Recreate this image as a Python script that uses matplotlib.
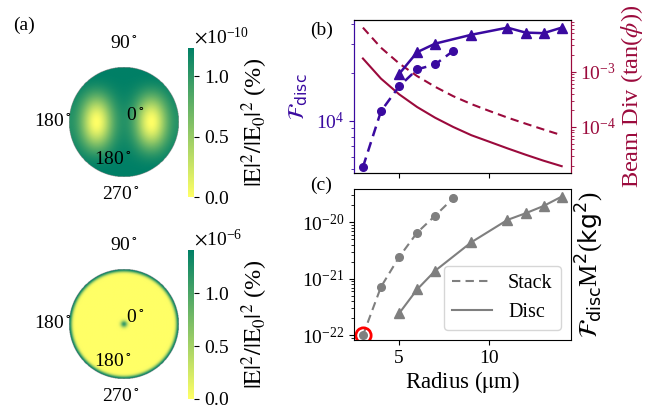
import numpy as np
import matplotlib
matplotlib.use("Agg")
import matplotlib.pyplot as plt
from matplotlib.lines import Line2D
from matplotlib.ticker import NullFormatter

plt.rcParams['font.family'] = ['Liberation Serif', 'DejaVu Serif']
plt.rcParams['mathtext.fontset'] = 'stix'
plt.rcParams['font.size'] = 14

# panel (b)/(c) data
radius_stack = [3, 4, 5, 6, 7, 8]
fdisc_stack = [5160, 11500, 16400, 20950, 22500, 27300]
radius_disc = [5, 6, 7, 9, 11, 12, 13, 14]
fdisc_disc = [19600, 26800, 30300, 34400, 38100, 35500, 35200, 38100]

radius_div = [3, 4, 5, 6, 7, 8, 9, 10, 11, 12, 13, 14]
div_stack = [6.31e-3, 2.73e-3, 1.42e-3, 8.35e-4, 5.34e-4, 3.61e-4,
             2.6e-4, 1.95e-4, 1.48e-4, 1.15e-4, 9.0e-5, 7.1e-5]
div_disc = [1.74e-3, 7.52e-4, 3.92e-4, 2.30e-4, 1.47e-4, 1.0e-4,
            7.1e-5, 5.4e-5, 4.1e-5, 3.15e-5, 2.45e-5, 1.95e-5]

fm2_stack = [1.0e-22, 7.2e-22, 2.42e-21, 6.55e-21, 1.31e-20, 2.66e-20]
fm2_disc = [2.44e-22, 6.5e-22, 1.39e-21, 4.43e-21, 1.1e-20, 1.44e-20, 1.94e-20, 2.84e-20]

# panel (a) colour scale maxima
vmax_top = 1.236e-10
vmax_bot = 1.41e-6

purple = '#3a0aa0'
crimson = '#9b0a3c'
grey = '#7f7f7f'

fig = plt.figure(figsize=(6.59, 4.12), dpi=100)

# ---- panel (a): field maps on the disc ----
n = 301
xx, yy = np.meshgrid(np.linspace(-1, 1, n), np.linspace(-1, 1, n))
rr = np.hypot(xx, yy)

lobes = ((0.3 + 0.7 * np.sin(np.pi * xx) ** 2) * np.cos(np.pi * yy / 2) ** 2) ** 1.6
field_top = np.ma.masked_where(rr > 1, (1 - lobes) * vmax_top)

field_bot = np.exp(-((1 - rr) / 0.05) ** 2) + 0.8 * np.exp(-(rr / 0.06) ** 2)
field_bot = np.ma.masked_where(rr > 1, field_bot * vmax_bot)


def disc_map(pos, cpos, field, vmax, ticks):
    ax = fig.add_axes(pos)
    im = ax.imshow(field, cmap='summer_r', vmin=0, vmax=vmax, origin='lower',
                   extent=[-1, 1, -1, 1], interpolation='bilinear')
    ax.set_xlim(-1.02, 1.02)
    ax.set_ylim(-1.02, 1.02)
    ax.axis('off')
    kw = dict(ha='center', va='center', clip_on=False)
    ax.text(0, 1.43, r'90$^\circ$', **kw)
    ax.text(-0.05, -1.32, r'270$^\circ$', **kw)
    ax.text(-1.3, 0.0, r'180$^\circ$', **kw)
    ax.text(0.2, 0.12, r'0$^\circ$', **kw)
    ax.text(-0.2, -0.68, r'180$^\circ$', **kw)
    cax = fig.add_axes(cpos)
    cb = fig.colorbar(im, cax=cax)
    cb.outline.set_visible(False)
    cb.set_ticks(ticks)
    cb.formatter.set_useMathText(True)
    cb.update_ticks()
    cax.yaxis.get_offset_text().set_horizontalalignment('left')
    cb.set_label(r'$|\mathrm{E}|^2/|\mathrm{E}_0|^2$ (%)', fontsize=17.5, labelpad=7)
    return ax


disc_map([0.1032, 0.568, 0.170, 0.272], [0.2853, 0.5218, 0.0097, 0.3617],
         field_top, vmax_top, [0, 0.5e-10, 1.0e-10])
disc_map([0.1032, 0.0777, 0.170, 0.272], [0.2853, 0.0316, 0.0097, 0.3617],
         field_bot, vmax_bot, [0, 0.5e-6, 1.0e-6])

# ---- panel (b) ----
ax_b = fig.add_axes([0.537, 0.579, 0.329, 0.372])
ax_b2 = ax_b.twinx()
ax_b.set_zorder(ax_b2.get_zorder() + 1)
ax_b.patch.set_visible(False)

ax_b.plot(radius_stack, fdisc_stack, '--o', color=purple, lw=1.8, ms=5.5, dashes=(4, 2.5))
ax_b.plot(radius_disc, fdisc_disc, '-^', color=purple, lw=1.8, ms=7)
ax_b2.plot(radius_div, div_stack, '--', color=crimson, lw=1.5, dashes=(4, 2.5))
ax_b2.plot(radius_div, div_disc, '-', color=crimson, lw=1.5)

ax_b.set_yscale('log')
ax_b2.set_yscale('log')
ax_b.set_xlim(2.5, 14.5)
ax_b.set_ylim(4710, 42400)
ax_b2.set_ylim(1.44e-5, 8.6e-3)
ax_b.yaxis.set_minor_formatter(NullFormatter())
ax_b2.yaxis.set_minor_formatter(NullFormatter())
ax_b.set_xticks([5, 10])
ax_b.set_xticklabels([])
ax_b.set_ylabel(r'$\mathcal{F}_{\rm disc}$', color=purple, fontsize=16,
                math_fontfamily='dejavusans')
ax_b.tick_params(axis='y', which='both', colors=purple)
ax_b2.tick_params(axis='y', which='both', colors=crimson)
ax_b2.set_ylabel(r'Beam Div (tan($\phi$))', color=crimson, fontsize=17.5, labelpad=2)
for a in (ax_b, ax_b2):
    a.spines['left'].set_color(purple)
    a.spines['right'].set_color(crimson)

# ---- panel (c) ----
ax_c = fig.add_axes([0.537, 0.1748, 0.329, 0.366])
ax_c.plot(radius_stack, fm2_stack, '--o', color=grey, lw=1.5, ms=5.5, dashes=(4, 2.5))
ax_c.plot(radius_disc, fm2_disc, '-^', color=grey, lw=1.5, ms=7)
ax_c.plot(radius_stack[0], fm2_stack[0], 'o', mfc='none', mec='red', ms=11, mew=2)
ax_c.set_yscale('log')
ax_c.set_xlim(2.5, 14.5)
ax_c.set_ylim(8.3e-23, 3.84e-20)
ax_c.yaxis.set_minor_formatter(NullFormatter())
ax_c.set_xticks([5, 10])
ax_c.set_xlabel(r'Radius ($\mathrm{\mu}$m)', fontsize=16.5, labelpad=2)
ax_c.yaxis.set_label_position('right')
ax_c.set_ylabel(r'$\mathcal{F}_{\rm disc}$M$^2$($\rm kg^2$)', math_fontfamily='dejavusans',
                fontsize=18, labelpad=2)

handles = [Line2D([], [], color=grey, ls='--', lw=1.5, dashes=(4, 2.5)),
           Line2D([], [], color=grey, ls='-', lw=1.5)]
ax_c.legend(handles, ['Stack', 'Disc'], loc='lower right', fontsize=14.5)

fig.text(0.02, 0.939, '(a)', va='center')
fig.text(0.470, 0.927, '(b)', va='center')
fig.text(0.470, 0.551, '(c)', va='center')

fig.savefig('out.png', dpi=100)
